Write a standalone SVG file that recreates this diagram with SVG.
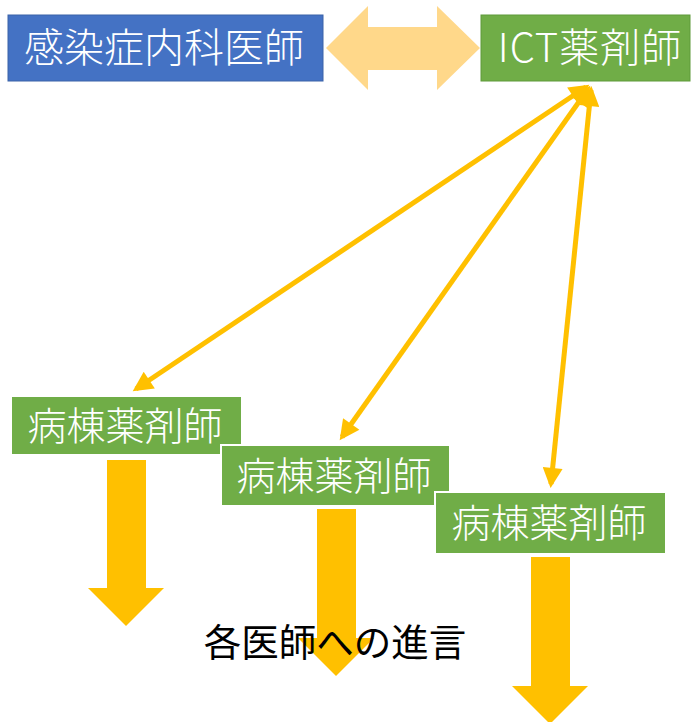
<svg xmlns="http://www.w3.org/2000/svg" width="695" height="722" viewBox="0 0 695 722">
<defs>
<style>
.t{font-family:"Noto Sans CJK JP","Noto Sans",sans-serif;font-size:39px;font-weight:300;fill:#fff;text-anchor:middle}
.ward{fill:#70AD47;stroke:#fff;stroke-width:2}
.down{fill:#FFC000}
.ln{stroke:#FFC000;stroke-width:5;fill:none;marker-start:url(#ah);marker-end:url(#ah)}
</style>
<marker id="ah" viewBox="0 0 10 10" refX="8" refY="5" markerWidth="4.2" markerHeight="4" orient="auto-start-reverse" markerUnits="strokeWidth">
<path d="M0,0 L10,5 L0,10 z" fill="#FFC000"/>
</marker>
</defs>
<rect width="695" height="722" fill="#fff"/>
<g id="connectors">
<polygon points="326,48 368,6 368,27 437,27 437,6 480,48 437,90 437,70 368,70 368,90" fill="#FFD88A"/>
<line class="ln" x1="586" y1="87" x2="136" y2="389"/>
<line class="ln" x1="588" y1="89" x2="342" y2="437"/>
<line class="ln" x1="591" y1="90" x2="551" y2="484"/>
</g>
<g id="infectious-disease-physician">
<rect x="8" y="15" width="315" height="66" fill="#4472C4" stroke="#3A63A8" stroke-width="1"/>
<text class="t" x="164" y="62" style="font-size:40px">感染症内科医師</text>
</g>
<g id="ict-pharmacist">
<rect x="481" y="15" width="209" height="66" fill="#70AD47" stroke="#5E9A3A" stroke-width="1"/>
<text class="t" x="590" y="62" style="font-size:40px;letter-spacing:1px">ICT薬剤師</text>
</g>
<g id="ward-pharmacist-1">
<rect class="ward" x="11" y="396" width="231" height="59"/>
<text class="t" x="125" y="440">病棟薬剤師</text>
<polygon class="down" points="107,460 146,460 146,588 164,588 126,626 88,588 107,588"/>
</g>
<g id="ward-pharmacist-2">
<rect class="ward" x="221" y="445" width="229" height="61"/>
<text class="t" x="334" y="490">病棟薬剤師</text>
<polygon class="down" points="317,509 356,509 356,638 374,638 336,676 298,638 317,638"/>
</g>
<g id="ward-pharmacist-3">
<rect class="ward" x="435" y="492" width="231" height="62"/>
<text class="t" x="549" y="537">病棟薬剤師</text>
<polygon class="down" points="531,557 570,557 570,686 588,686 550,724 512,686 531,686"/>
</g>
<g id="advice-label">
<text x="335" y="656" style="font-family:'Noto Sans CJK JP','Noto Sans',sans-serif;font-size:37.5px;fill:#000;text-anchor:middle">各医師への進言</text>
</g>
</svg>
